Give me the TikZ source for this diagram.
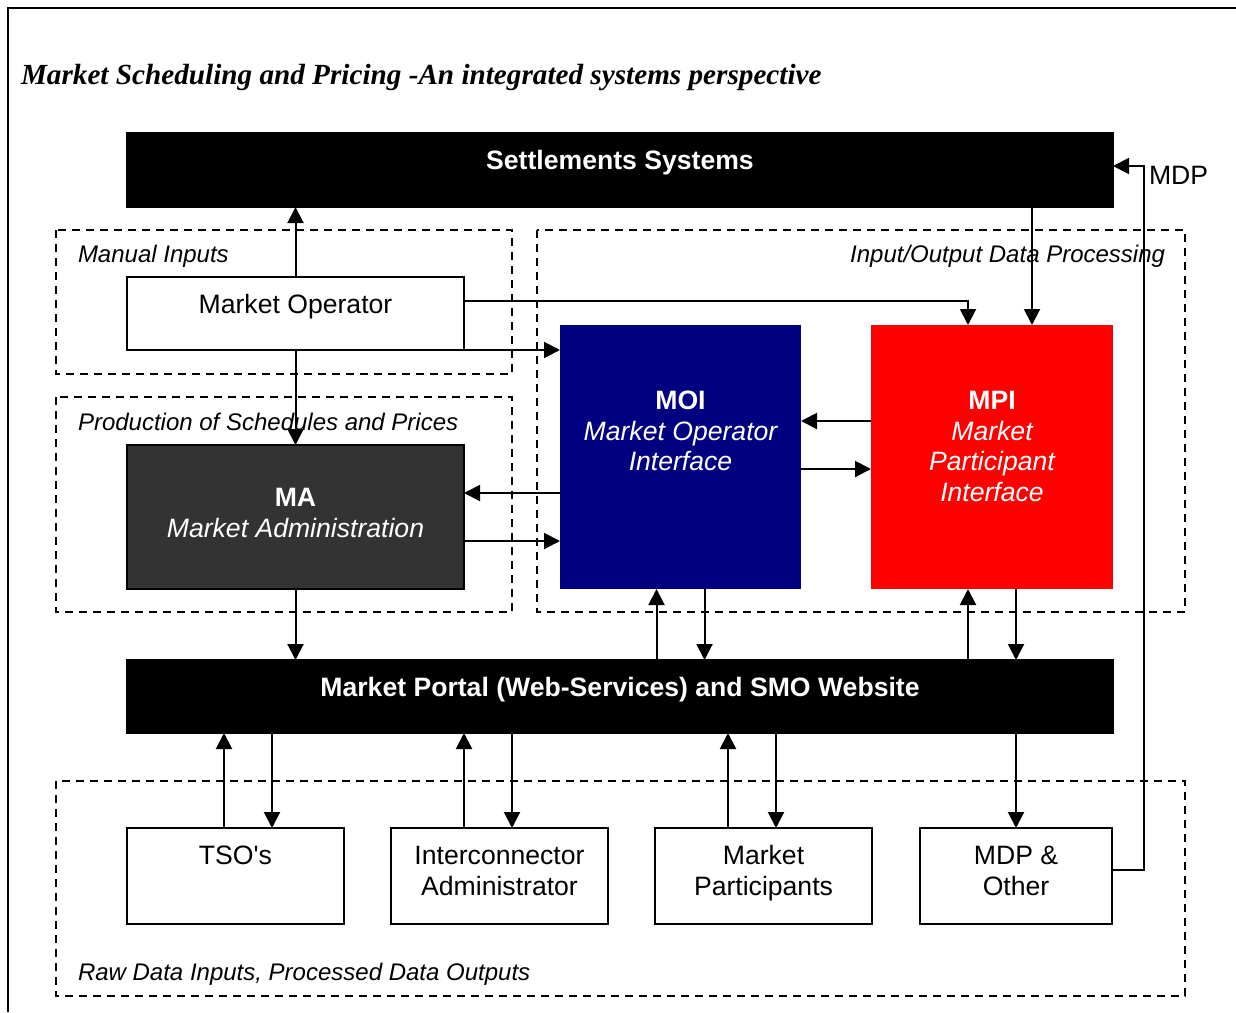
\documentclass[tikz,border=0pt]{standalone}
\usepackage{fontspec}
\setmainfont{Liberation Serif}
\setsansfont{Liberation Sans}
\usetikzlibrary{arrows.meta,calc}

\begin{document}
\begin{tikzpicture}[x=0.5pt,y=-0.5pt,line width=1pt,>={Triangle[length=8pt,width=8pt]},
  box/.style={draw,inner sep=0pt,outer sep=0pt,anchor=north west},
  grp/.style={dash pattern=on 4pt off 3pt},
  txt/.style={font=\sffamily\fontsize{13.3}{15.3}\selectfont,align=center,anchor=base,inner sep=0pt},
  lbl/.style={font=\sffamily\itshape\fontsize{12}{14}\selectfont,inner sep=0pt}]
  \useasboundingbox (0,0) rectangle (1236,1012);
  % Rahmen und Titel
  \draw (8,1012) -- (8,8) -- (1236,8);
  \node[anchor=base west,inner sep=0pt,font=\bfseries\itshape\fontsize{14.6}{17}\selectfont] (title) at (20,84)
    {Market Scheduling and Pricing -An integrated systems perspective};
  % Gruppen
  \draw[grp] (56,230) rectangle (512,374);
  \draw[grp] (537,230) rectangle (1185,612);
  \draw[grp] (56,397) rectangle (512,612);
  \draw[grp] (56,781) rectangle (1185,996);
  \node[lbl,anchor=base west] (lman) at (77,262.5) {Manual Inputs};
  \node[lbl,anchor=base east] (lio) at (1166,262.5) {Input/Output Data Processing};
  \node[lbl,anchor=base west] (lprod) at (77,430.5) {Production of Schedules and Prices};
  \node[lbl,anchor=base west] (lraw) at (77,980.5) {Raw Data Inputs, Processed Data Outputs};
  % Kaesten
  \node[box,fill=black,minimum width=493pt,minimum height=37pt] (sett) at (127,133) {};
  \node[box,minimum width=168.5pt,minimum height=36.5pt] (mo) at (127,277) {};
  \node[box,fill=black!80,minimum width=168.5pt,minimum height=72pt] (ma) at (127,445) {};
  \node[box,draw=none,fill={rgb,255:red,0;green,0;blue,128},minimum width=120.5pt,minimum height=132pt] (moi) at (560,325) {};
  \node[box,draw=none,fill=red,minimum width=121pt,minimum height=132pt] (mpi) at (871,325) {};
  \node[box,fill=black,minimum width=493pt,minimum height=36.5pt] (portal) at (127,660) {};
  \node[box,minimum width=108.5pt,minimum height=48pt] (tso) at (127,828) {};
  \node[box,minimum width=108.5pt,minimum height=48pt] (ica) at (391,828) {};
  \node[box,minimum width=108.5pt,minimum height=48pt] (mp) at (655,828) {};
  \node[box,minimum width=96pt,minimum height=48pt] (mdp) at (920,828) {};
  % Texte (base = letzte Zeile)
  \node[txt,white,font=\sffamily\bfseries\fontsize{13.3}{15.3}\selectfont] (settT) at ($(sett.north)+(0,36.5)$) {Settlements Systems};
  \node[txt] (moT) at ($(mo.north)+(0,36.5)$) {Market Operator};
  \node[txt,white] (maT) at ($(ma.north)+(0,92.1)$) {\bfseries MA\\\itshape Market Administration};
  \node[txt,white] (moiT) at ($(moi.north)+(0,145.7)$) {\bfseries MOI\\\itshape Market Operator\\\itshape Interface};
  \node[txt,white] (mpiT) at ($(mpi.north)+(0,176.3)$) {\bfseries MPI\\\itshape Market\\\itshape Participant\\\itshape Interface};
  \node[txt,white,font=\sffamily\bfseries\fontsize{13.3}{15.3}\selectfont] (portalT) at ($(portal.north)+(0,36.5)$) {Market Portal (Web-Services) and SMO Website};
  \node[txt] (tsoT) at ($(tso.north)+(0,36.5)$) {TSO\textquotesingle s};
  \node[txt] (icaT) at ($(ica.north)+(0,67.1)$) {Interconnector\\Administrator};
  \node[txt] (mpT) at ($(mp.north)+(0,67.1)$) {Market\\Participants};
  \node[txt] (mdpT) at ($(mdp.north)+(0,67.1)$) {MDP \&\\Other};
  % Pfeile oben
  \draw[->] (mo.north) -- (mo.north |- sett.south);
  \draw[->] (mo.south) -- (ma.north);
  \coordinate (a1) at ($(mo.east)+(0,-12.5)$);
  \coordinate (a2) at ($(mpi.north)+(-24,0)$);
  \draw[->] (a1) -| (a2);
  \draw[->] (mo.south east) -- (mo.south east -| moi.west);
  \coordinate (a3) at ($(mpi.north)+(40,0)$);
  \draw[->] (a3 |- sett.south) -- (a3);
  % Pfeile Mitte
  \coordinate (h1) at ($(mpi.west)+(0,-36)$);
  \coordinate (h2) at ($(moi.east)+(0,12)$);
  \coordinate (h3) at ($(ma.east)+(0,-24)$);
  \coordinate (h4) at ($(ma.east)+(0,24)$);
  \draw[->] (h1) -- (h1 -| moi.east);
  \draw[->] (h2) -- (h2 -| mpi.west);
  \draw[->] (h3 -| moi.west) -- (h3);
  \draw[->] (h4) -- (h4 -| moi.west);
  \draw[->] (ma.south) -- (ma.south |- portal.north);
  \foreach \n in {moi,mpi} {
    \coordinate (u) at ($(\n.south)+(-24,0)$);
    \coordinate (d) at ($(\n.south)+(24,0)$);
    \draw[->] (u |- portal.north) -- (u);
    \draw[->] (d) -- (d |- portal.north);
  }
  % Pfeile unten
  \foreach \n/\u/\d in {tso/-11.5/36.5,ica/-35.5/12.5,mp/-35.5/12.5} {
    \coordinate (u) at ($(\n.north)+(\u,0)$);
    \coordinate (d) at ($(\n.north)+(\d,0)$);
    \draw[->] (u) -- (u |- portal.south);
    \draw[->] (d |- portal.south) -- (d);
  }
  \draw[->] (mdp.north |- portal.south) -- (mdp.north);
  % MDP Rueckfuehrung
  \coordinate (m1) at ($(mdp.east)+(0,-6)$);
  \coordinate (m2) at ($(sett.east)+(0,-4)$);
  \draw[->] (m1) -- ++(32,0) |- (m2);
  \node[txt,anchor=base west] (mdpL) at (1148,184.5) {MDP};
\end{tikzpicture}
\end{document}
